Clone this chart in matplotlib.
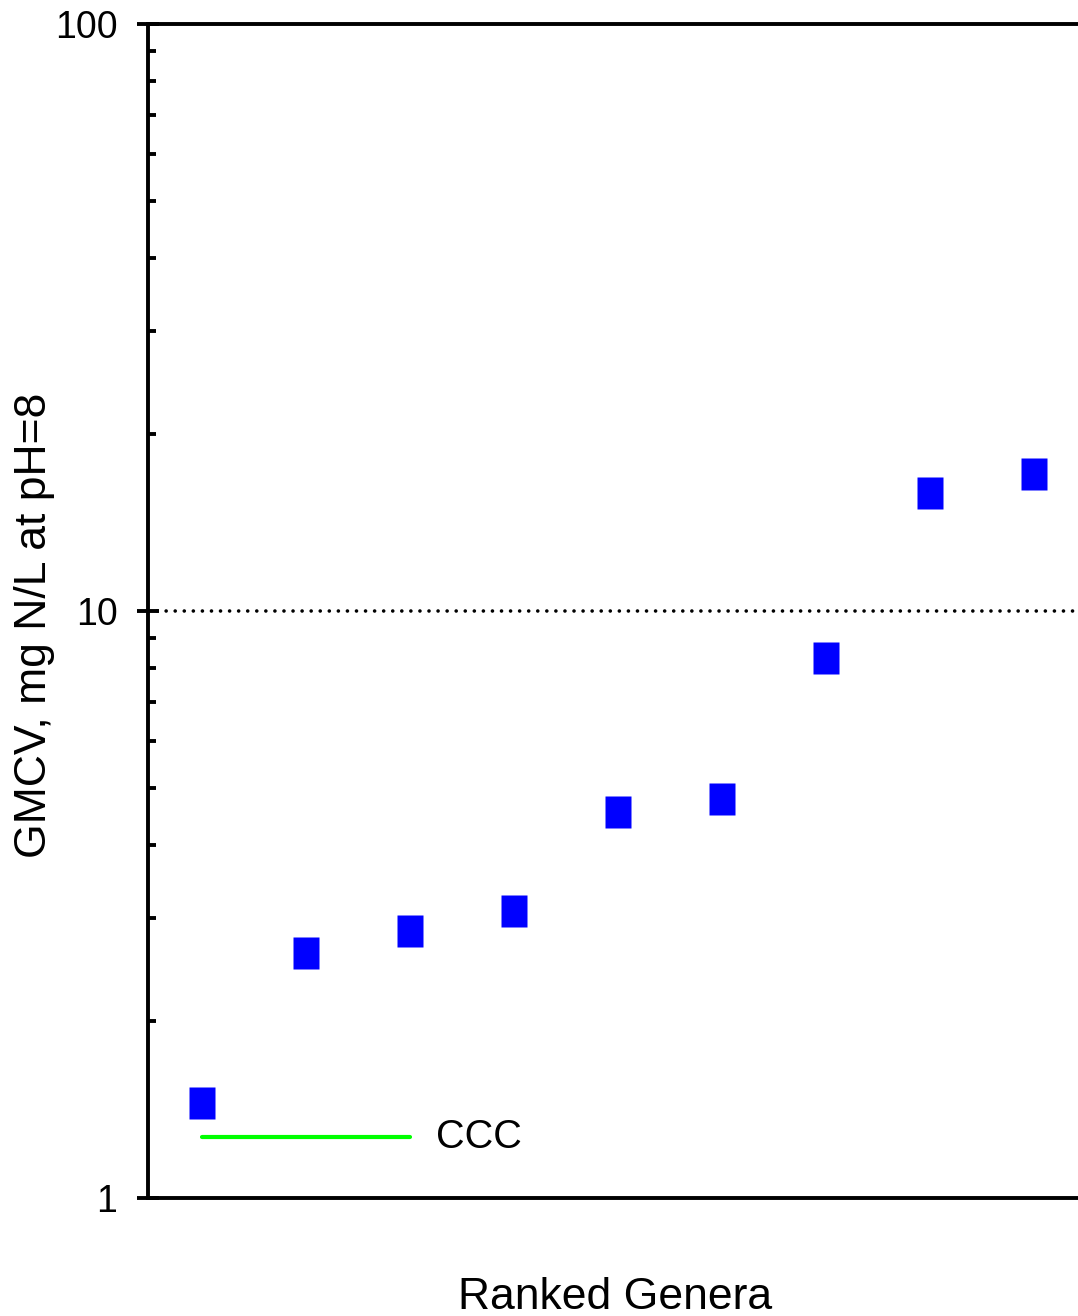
import numpy as np
import matplotlib
matplotlib.use("Agg")
import matplotlib.pyplot as plt
from matplotlib.ticker import LogLocator, NullFormatter, FixedLocator, FixedFormatter

plt.rcParams['font.family'] = ['Liberation Sans', 'DejaVu Sans']

# ranked genera (rank, GMCV in mg N/L at pH=8)
ranks = [1, 2, 3, 4, 5, 6, 7, 8, 9]
gmcv = [1.45, 2.61, 2.85, 3.08, 4.55, 4.78, 8.32, 15.9, 17.1]

ccc_value = 1.27
ccc_span = [1, 3]
ref_line = 10

y_ticks = [1, 10, 100]
y_tick_labels = ["1", "10", "100"]

fig = plt.figure(figsize=(10.78, 13.16), dpi=100)
W, H = 1078, 1316
ax = fig.add_axes([148 / W, (H - 1198) / H, (1082 - 148) / W, (1198 - 24) / H])

ax.set_yscale("log")
ax.set_ylim(1, 100)
ax.set_xlim(1 - 54 / 104, 9 + 48 / 104)

# rectangular markers, a bit taller than wide
rect = [(-0.41, -0.5), (0.41, -0.5), (0.41, 0.5), (-0.41, 0.5), (-0.41, -0.5)]
ax.plot(ranks, gmcv, linestyle="none", marker=rect, markersize=23,
        markerfacecolor="#0000ff", markeredgecolor="none", zorder=3)

ax.axhline(ref_line, color="black", linewidth=2.6, linestyle=(0, (0.01, 2.5)),
           dash_capstyle="round", zorder=1)

ax.plot(ccc_span, [ccc_value, ccc_value], color="#00ff00", linewidth=3,
        solid_capstyle="round")
ax.text(3.25, ccc_value, "CCC", fontsize=28.5, va="center", ha="left")

ax.spines["right"].set_visible(False)
for side in ["left", "top", "bottom"]:
  ax.spines[side].set_linewidth(2.8)

ax.yaxis.set_major_locator(FixedLocator(y_ticks))
ax.yaxis.set_major_formatter(FixedFormatter(y_tick_labels))
ax.yaxis.set_minor_locator(LogLocator(base=10, subs=np.arange(2, 10)))
ax.yaxis.set_minor_formatter(NullFormatter())
ax.tick_params(axis="y", which="major", direction="inout", length=16, width=2.8,
               labelsize=27, pad=14)
ax.tick_params(axis="y", which="minor", direction="in", length=5.5, width=2.8)
ax.set_xticks([])

fig.text(615 / W, (H - 1309) / H, "Ranked Genera", fontsize=32,
         ha="center", va="baseline")
fig.text(35 / W, 1 - 625 / H, "GMCV, mg N/L at pH=8", fontsize=32,
         ha="center", va="center", rotation=90)

fig.savefig("out.png", dpi=100)
